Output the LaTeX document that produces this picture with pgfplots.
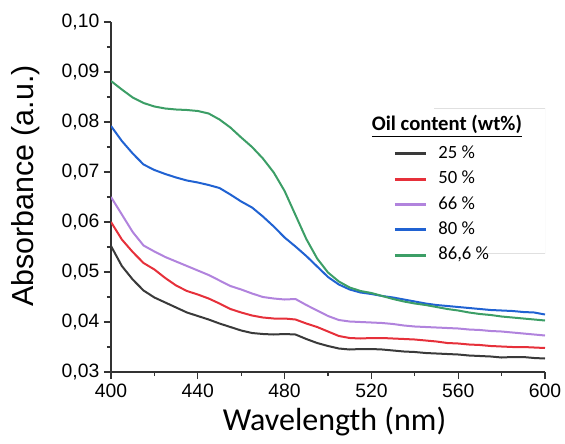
\documentclass[border=0pt]{standalone}
\usepackage{fontspec}
\setmainfont{Liberation Sans}
\newfontfamily\calibri{Carlito}
\usepackage{pgfplots}
\usepackage{pgfplotstable}
\pgfplotsset{compat=1.18}

\definecolor{c25}{HTML}{3A3A3A}
\definecolor{c50}{HTML}{E6303A}
\definecolor{c66}{HTML}{B183DD}
\definecolor{c80}{HTML}{2062D2}
\definecolor{c866}{HTML}{3C9E66}
\definecolor{axisgray}{HTML}{333333}

% absorbance spectra
\pgfplotstableread{
wl  s25    s50    s66    s80    s866
400 0.0552 0.0600 0.0650 0.0792 0.0882
405 0.0512 0.0565 0.0615 0.0762 0.0865
410 0.0485 0.0540 0.0580 0.0737 0.0849
415 0.0463 0.0518 0.0553 0.0715 0.0838
420 0.0449 0.0505 0.0541 0.0704 0.0831
425 0.0439 0.0488 0.0530 0.0696 0.0827
430 0.0429 0.0473 0.0521 0.0689 0.0825
435 0.0419 0.0462 0.0512 0.0683 0.0824
440 0.0412 0.0455 0.0503 0.0679 0.0822
445 0.0405 0.0447 0.0494 0.0674 0.0817
450 0.0397 0.0437 0.0483 0.0668 0.0805
455 0.0390 0.0426 0.0472 0.0655 0.0789
460 0.0383 0.0419 0.0465 0.0641 0.0769
465 0.0378 0.0413 0.0457 0.0629 0.0750
470 0.0376 0.0409 0.0450 0.0611 0.0727
475 0.0375 0.0407 0.0447 0.0591 0.0699
480 0.0376 0.0407 0.0445 0.0569 0.0662
485 0.0375 0.0405 0.0446 0.0551 0.0614
490 0.0366 0.0397 0.0434 0.0532 0.0566
495 0.0358 0.0390 0.0423 0.0511 0.0527
500 0.0352 0.0381 0.0412 0.0490 0.0499
505 0.0347 0.0372 0.0404 0.0475 0.0481
510 0.0345 0.0368 0.0401 0.0465 0.0469
515 0.0346 0.0367 0.0400 0.0459 0.0462
520 0.0346 0.0368 0.0399 0.0456 0.0458
525 0.0345 0.0368 0.0398 0.0452 0.0452
530 0.0343 0.0367 0.0396 0.0449 0.0446
535 0.0341 0.0366 0.0393 0.0445 0.0441
540 0.0340 0.0365 0.0391 0.0441 0.0437
545 0.0338 0.0363 0.0390 0.0437 0.0434
550 0.0337 0.0361 0.0389 0.0434 0.0430
555 0.0336 0.0358 0.0388 0.0432 0.0426
560 0.0335 0.0357 0.0387 0.0430 0.0423
565 0.0333 0.0355 0.0385 0.0428 0.0419
570 0.0332 0.0354 0.0384 0.0426 0.0416
575 0.0331 0.0352 0.0382 0.0424 0.0414
580 0.0329 0.0351 0.0381 0.0423 0.0411
585 0.0330 0.0350 0.0379 0.0422 0.0409
590 0.0330 0.0350 0.0377 0.0420 0.0407
595 0.0328 0.0349 0.0375 0.0419 0.0405
600 0.0327 0.0348 0.0373 0.0415 0.0403
}\spectra

\begin{document}
\begin{tikzpicture}
\begin{axis}[
    scale only axis,
    width=325.5pt, height=262.5pt,
    xmin=400, xmax=600,
    ymin=0.03, ymax=0.10,
    axis lines*=left,
    axis line style={line width=1pt, axisgray},
    tick align=outside,
    major tick length=5.25pt,
    minor tick length=3pt,
    every tick/.style={axisgray, line width=0.9pt},
    xtick={400,440,480,520,560,600},
    ytick={0.03,0.04,0.05,0.06,0.07,0.08,0.09,0.10},
    minor x tick num=1,
    minor y tick num=1,
    /pgf/number format/assume math mode=true,
    tick label style={font=\rmfamily\fontsize{14.5}{16}\selectfont},
    y tick label style={/pgf/number format/.cd, fixed, fixed zerofill, precision=2, use comma},
    x tick label style={/pgf/number format/.cd, fixed, precision=0, 1000 sep={}},
    scaled y ticks=false,
    xlabel={\calibri Wavelength (nm)},
    xlabel style={at={(rel axis cs:0.515,0)}, anchor=base, yshift=-43.5pt,
        font=\fontsize{24}{28}\selectfont},
    ylabel={Absorbance (a.u.)},
    ylabel style={at={(rel axis cs:-0.196,0.531)}, anchor=center,
        font=\rmfamily\fontsize{22.8}{26}\selectfont},
    legend style={at={(rel axis cs:0.65,0.649)}, anchor=north west,
        draw=none, fill=none, inner sep=0pt,
        font=\calibri\fontsize{14}{16}\selectfont,
        row sep=6pt, column sep=8.25pt,
        nodes={inner sep=0pt, text height=10pt, text depth=3pt}},
    legend cell align=left,
    legend image code/.code={\draw[#1, line width=2.25pt] (0pt,0pt) -- (23.25pt,0pt);},
    every axis plot/.append style={line width=1.5pt},
]
\addplot[c25]  table[x=wl, y=s25]  {\spectra};
\addplot[c50]  table[x=wl, y=s50]  {\spectra};
\addplot[c66]  table[x=wl, y=s66]  {\spectra};
\addplot[c80]  table[x=wl, y=s80]  {\spectra};
\addplot[c866] table[x=wl, y=s866] {\spectra};
\legend{25 \%, 50 \%, 66 \%, 80 \%, 86{,}6 \%}

\node[anchor=base, font=\calibri\bfseries\fontsize{15.5}{18}\selectfont]
    at (rel axis cs:0.774,0.689) {\underline{Oil content (wt\%)}};
% faint frame of the pasted legend
\draw[black!12, line width=0.6pt]
    (rel axis cs:0.745,0.754) -- (rel axis cs:1,0.754) -- (rel axis cs:1,0.340)
    -- (rel axis cs:0.866,0.340);
\end{axis}
\pgfresetboundingbox
\path[use as bounding box]
    ([xshift=-83.25pt, yshift=-53.25pt]current axis.south west)
    rectangle ([xshift=15pt, yshift=16.5pt]current axis.north east);
\end{tikzpicture}
\end{document}
